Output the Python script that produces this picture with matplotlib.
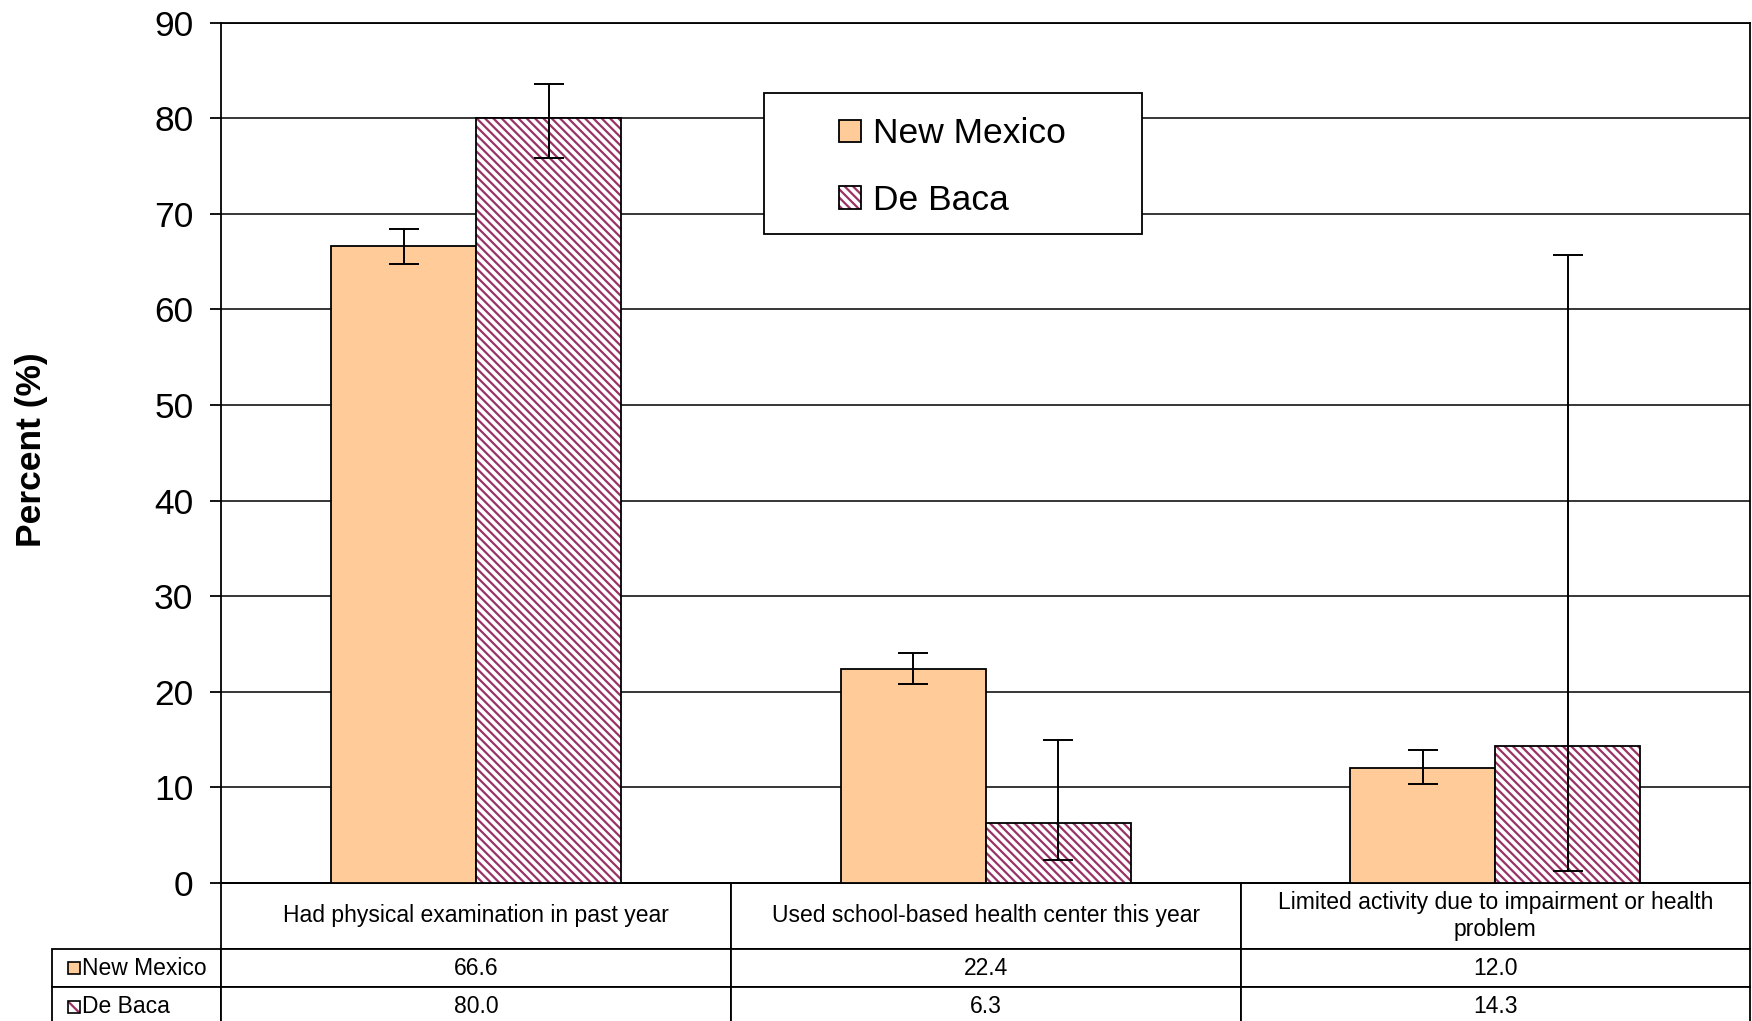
import numpy as np
import matplotlib.pyplot as plt
from matplotlib.patches import Rectangle

plt.rcParams['font.family'] = ['Liberation Sans', 'DejaVu Sans']
plt.rcParams['hatch.linewidth'] = 1.6

# data
categories = ['Had physical examination in past year',
              'Used school-based health center this year',
              'Limited activity due to impairment or health\nproblem']
series = ['New Mexico', 'De Baca']
nm_values = [66.6, 22.4, 12.0]
nm_low = [64.7, 20.8, 10.4]
nm_high = [68.4, 24.1, 13.9]
db_values = [80.0, 6.3, 14.3]
db_low = [75.8, 2.4, 1.3]
db_high = [83.6, 15.0, 65.7]

nm_color = '#FFCC99'
db_color = '#993366'
hatch = '\\\\\\\\'

fig = plt.figure(figsize=(17.52, 10.21), dpi=100)
ax = fig.add_axes([0.1263, 0.1352, 0.8727, 0.8427])

x = np.arange(len(categories))
w = 0.2845

nm_bars = ax.bar(x - w / 2, nm_values, w, color=nm_color, edgecolor='black',
                 linewidth=1.3, zorder=3)
db_hatch = ax.bar(x + w / 2, db_values, w, color='white', edgecolor=db_color,
                  hatch=hatch, linewidth=0, zorder=3)
db_edge = ax.bar(x + w / 2, db_values, w, fill=False, edgecolor='black',
                 linewidth=1.3, zorder=3.1)

nm_err = [np.array(nm_values) - np.array(nm_low), np.array(nm_high) - np.array(nm_values)]
db_err = [np.array(db_values) - np.array(db_low), np.array(db_high) - np.array(db_values)]
ax.errorbar(x - w / 2, nm_values, yerr=nm_err, fmt='none', ecolor='black',
            elinewidth=1.4, capsize=11, capthick=1.4, zorder=5)
ax.errorbar(x + w / 2, db_values, yerr=db_err, fmt='none', ecolor='black',
            elinewidth=1.4, capsize=11, capthick=1.4, zorder=5)

ax.set_xlim(-0.5, len(categories) - 0.5)
ax.set_ylim(0, 90)
ax.set_yticks(range(0, 91, 10))
ax.set_xticks([])
ax.tick_params(axis='y', length=8, width=1.3, pad=12, labelsize=25.5)
ax.yaxis.grid(True, color='black', linewidth=1.1)
ax.set_axisbelow(True)
for s in ax.spines.values():
    s.set_color('black')
    s.set_linewidth(1.3)

fig.text(0.0177, 0.560, 'Percent (%)', rotation=90, ha='center', va='center',
         fontsize=25.5, fontweight='bold')

# legend box
ax.add_patch(Rectangle((0.355, 0.754), 0.247, 0.164, transform=ax.transAxes,
                       facecolor='white', edgecolor='black', linewidth=1.3, zorder=4))
ax.legend([nm_bars, (db_hatch, db_edge)], series, loc='center',
          bbox_to_anchor=(0.4784, 0.832), frameon=False, fontsize=25.5,
          handlelength=0.62, handleheight=0.62, handletextpad=0.35,
          labelspacing=0.94)

# data table under the axis (bottom row runs off the picture, as in the original)
label_w = 160 / 1529
col_w = 1 / len(categories)
header_h = 66 / 860.4
row_h = 38.5 / 860.4
cell_text = [[f'{v:.1f}' for v in nm_values], [f'{v:.1f}' for v in db_values]]
table = ax.table(cellText=cell_text, rowLabels=series, colLabels=categories,
                 cellLoc='center', rowLoc='left', colLoc='center',
                 bbox=[0, -(header_h + 2 * row_h), 1, header_h + 2 * row_h])
table.auto_set_font_size(False)
table.set_fontsize(16.5)
for (r, c), cell in table.get_celld().items():
    cell.set_linewidth(1.3)
    cell.set_edgecolor('black')
    cell.set_height(header_h if r == 0 else row_h)
    cell.set_width(label_w if c == -1 else col_w)
    if c == -1:
        cell.PAD = 0.18

key = 12
for i, name in enumerate(series):
    yc = -(header_h + row_h * (i + 0.5))
    kx = -label_w + 7 / 1529
    ky = yc - key / 2 / 860.4
    if i == 0:
        ax.add_patch(Rectangle((kx, ky), key / 1529, key / 860.4, transform=ax.transAxes,
                               facecolor=nm_color, edgecolor='black', linewidth=1.2,
                               clip_on=False, zorder=6))
    else:
        ax.add_patch(Rectangle((kx, ky), key / 1529, key / 860.4, transform=ax.transAxes,
                               facecolor='white', edgecolor=db_color, hatch='\\\\',
                               linewidth=0, clip_on=False, zorder=6))
        ax.add_patch(Rectangle((kx, ky), key / 1529, key / 860.4, transform=ax.transAxes,
                               fill=False, edgecolor='black', linewidth=1.2,
                               clip_on=False, zorder=6.1))

fig.savefig('out.png', dpi=100)
